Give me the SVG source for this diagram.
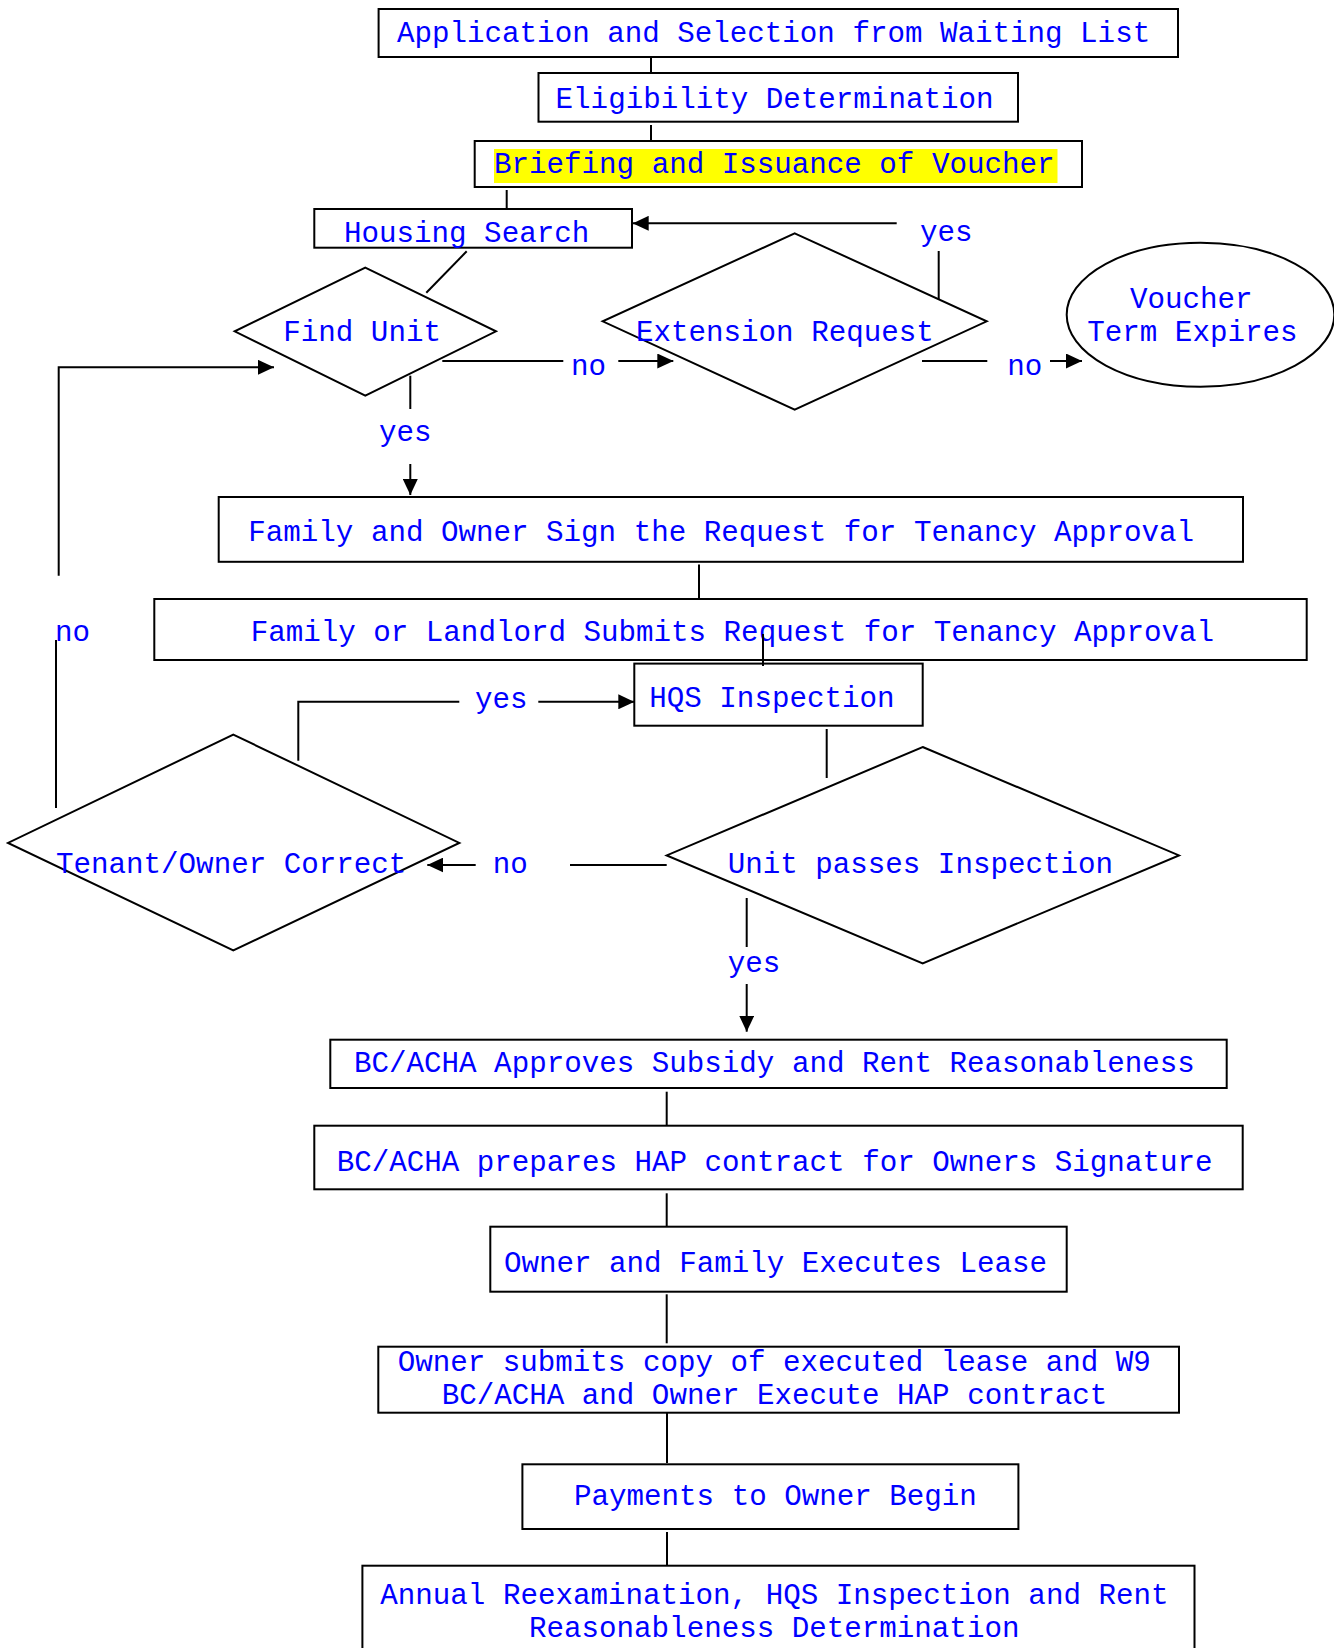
<svg xmlns="http://www.w3.org/2000/svg" width="1334" height="1648" viewBox="0 0 1334 1648">
<defs>
<style>
.box{fill:#fff;stroke:#000;stroke-width:2}
.shape{fill:#fff;stroke:#000;stroke-width:2}
.ln{fill:none;stroke:#000;stroke-width:2}
.t{font-family:"Courier New","Nimbus Mono PS","Nimbus Mono L","Liberation Mono",monospace;font-size:29.2px;fill:#0000ff}
</style>
<marker id="arr" markerUnits="userSpaceOnUse" markerWidth="16" markerHeight="15" refX="16" refY="7.5" orient="auto">
<path d="M0,0 L16,7.5 L0,15 z" fill="#000"/>
</marker>
</defs>
<rect width="1334" height="1648" fill="#fff"/>

<g id="n-application">
<rect class="box" x="378.6" y="9" width="799.4" height="48"/>
<text class="t" x="397" y="41.5">Application and Selection from Waiting List</text>
</g>
<g id="n-eligibility">
<rect class="box" x="538.5" y="73" width="479.5" height="48.7"/>
<text class="t" x="555.6" y="108">Eligibility Determination</text>
</g>
<g id="n-briefing">
<rect class="box" x="474.7" y="141" width="607.3" height="46"/>
<rect x="494" y="149" width="563.5" height="34" fill="#ffff00"/>
<text class="t" x="494" y="173">Briefing and Issuance of Voucher</text>
</g>
<g id="n-housing">
<rect class="box" x="314.3" y="209" width="317.7" height="38.7"/>
<text class="t" x="344" y="241.7">Housing Search</text>
</g>
<g id="n-findunit">
<polygon class="shape" points="365.3,267.7 496,331.3 365.3,395.7 234.7,331.3"/>
<text class="t" x="283.3" y="341">Find Unit</text>
</g>
<g id="n-extension">
<polygon class="shape" points="794.7,233.3 986.7,321.3 794.7,409.7 602.7,321.3"/>
<text class="t" x="636" y="341">Extension Request</text>
</g>
<g id="n-expires">
<ellipse class="shape" cx="1200.5" cy="314.7" rx="133.8" ry="72"/>
<text class="t" x="1130" y="307.5">Voucher</text>
<text class="t" x="1087.3" y="341">Term Expires</text>
</g>
<g id="n-sign">
<rect class="box" x="218.7" y="497" width="1024.3" height="64.8"/>
<text class="t" x="248.3" y="540.5">Family and Owner Sign the Request for Tenancy Approval</text>
</g>
<g id="n-submit">
<rect class="box" x="154.3" y="599" width="1152.4" height="61"/>
<text class="t" x="250.7" y="640.5">Family or Landlord Submits Request for Tenancy Approval</text>
</g>
<g id="n-hqs">
<rect class="box" x="634.3" y="663.6" width="288.4" height="62.1"/>
<text class="t" x="649.3" y="706.5">HQS Inspection</text>
</g>
<g id="n-correct">
<polygon class="shape" points="233.3,734.6 459.3,842.9 233.3,950.4 8,842.9"/>
<text class="t" x="56" y="872.5">Tenant/Owner Correct</text>
</g>
<g id="n-passes">
<polygon class="shape" points="922.7,747 1179,855.4 922.7,963.3 666.7,855.4"/>
<text class="t" x="727.7" y="872.5">Unit passes Inspection</text>
</g>
<g id="n-approves">
<rect class="box" x="330.3" y="1039.7" width="896.4" height="48.3"/>
<text class="t" x="354" y="1072">BC/ACHA Approves Subsidy and Rent Reasonableness</text>
</g>
<g id="n-prepares">
<rect class="box" x="314.3" y="1125.7" width="928.4" height="63.6"/>
<text class="t" x="336.7" y="1170.5">BC/ACHA prepares HAP contract for Owners Signature</text>
</g>
<g id="n-lease">
<rect class="box" x="490.3" y="1226.7" width="576.4" height="65"/>
<text class="t" x="504" y="1271.5">Owner and Family Executes Lease</text>
</g>
<g id="n-w9">
<rect class="box" x="378.3" y="1346.7" width="800.7" height="66"/>
<text class="t" x="397.7" y="1371">Owner submits copy of executed lease and W9</text>
<text class="t" x="441.7" y="1404.3">BC/ACHA and Owner Execute HAP contract</text>
</g>
<g id="n-payments">
<rect class="box" x="522.4" y="1464.3" width="496" height="64.7"/>
<text class="t" x="574" y="1504.5">Payments to Owner Begin</text>
</g>
<g id="n-annual">
<rect class="box" x="362.4" y="1565.7" width="832.1" height="110"/>
<text class="t" x="380.3" y="1603.5">Annual Reexamination, HQS Inspection and Rent</text>
<text class="t" x="529" y="1636.5">Reasonableness Determination</text>
</g>

<g id="connectors">
<line class="ln" x1="651" y1="57" x2="651" y2="73"/>
<line class="ln" x1="651" y1="125" x2="651" y2="141"/>
<line class="ln" x1="506.7" y1="190" x2="506.7" y2="209"/>
<line class="ln" x1="896.7" y1="223.3" x2="632.7" y2="223.3" marker-end="url(#arr)"/>
<line class="ln" x1="938.7" y1="251" x2="938.7" y2="299.3"/>
<text class="t" x="920" y="241">yes</text>
<line class="ln" x1="466.7" y1="251.3" x2="426.3" y2="292.7"/>
<line class="ln" x1="442.3" y1="361" x2="563.3" y2="361"/>
<text class="t" x="571" y="374.5">no</text>
<line class="ln" x1="618.3" y1="361" x2="673.3" y2="361" marker-end="url(#arr)"/>
<line class="ln" x1="922" y1="361" x2="987.3" y2="361"/>
<text class="t" x="1007.3" y="374.5">no</text>
<line class="ln" x1="1050" y1="361" x2="1082" y2="361" marker-end="url(#arr)"/>
<line class="ln" x1="410.3" y1="375.7" x2="410.3" y2="409"/>
<text class="t" x="379" y="440.5">yes</text>
<line class="ln" x1="410.3" y1="464" x2="410.3" y2="495" marker-end="url(#arr)"/>
<polyline class="ln" points="58.7,575.7 58.7,367.3 274,367.3" marker-end="url(#arr)"/>
<text class="t" x="55" y="640.5">no</text>
<line class="ln" x1="56" y1="640" x2="56" y2="808"/>
<line class="ln" x1="699" y1="564.6" x2="699" y2="599"/>
<line class="ln" x1="763" y1="634" x2="763" y2="666"/>
<polyline class="ln" points="298.3,760.7 298.3,701.8 459.3,701.8"/>
<text class="t" x="475" y="707.5">yes</text>
<line class="ln" x1="538.3" y1="701.8" x2="634.3" y2="701.8" marker-end="url(#arr)"/>
<line class="ln" x1="826.7" y1="729" x2="826.7" y2="778"/>
<line class="ln" x1="570" y1="865" x2="666.7" y2="865"/>
<text class="t" x="492.7" y="872.5">no</text>
<line class="ln" x1="475.7" y1="865" x2="427.3" y2="865" marker-end="url(#arr)"/>
<line class="ln" x1="746.7" y1="898" x2="746.7" y2="947"/>
<text class="t" x="727.7" y="972">yes</text>
<line class="ln" x1="746.7" y1="984" x2="746.7" y2="1031.7" marker-end="url(#arr)"/>
<line class="ln" x1="666.7" y1="1091.7" x2="666.7" y2="1125.7"/>
<line class="ln" x1="666.7" y1="1193.3" x2="666.7" y2="1226.7"/>
<line class="ln" x1="666.7" y1="1294.3" x2="666.7" y2="1343.3"/>
<line class="ln" x1="667" y1="1412.7" x2="667" y2="1463"/>
<line class="ln" x1="667" y1="1532" x2="667" y2="1565.7"/>
</g>
</svg>
